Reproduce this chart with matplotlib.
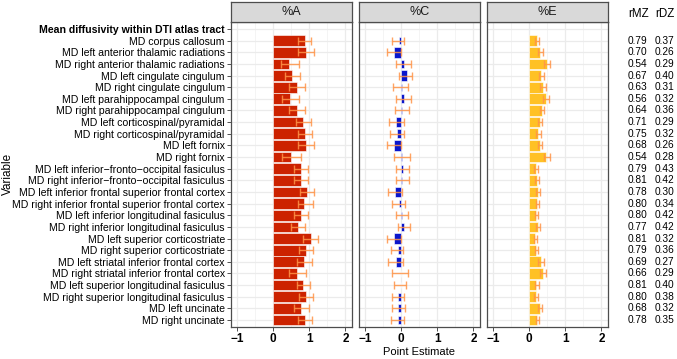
import numpy as np
import matplotlib.pyplot as plt
from matplotlib.transforms import blended_transform_factory

plt.rcParams['font.family'] = ['Liberation Sans', 'DejaVu Sans']

header = 'Mean diffusivity within DTI atlas tract'
tracts = [
    'MD corpus callosum',
    'MD left anterior thalamic radiations',
    'MD right anterior thalamic radiations',
    'MD left cingulate cingulum',
    'MD right cingulate cingulum',
    'MD left parahippocampal cingulum',
    'MD right parahippocampal cingulum',
    'MD left corticospinal/pyramidal',
    'MD right corticospinal/pyramidal',
    'MD left fornix',
    'MD right fornix',
    'MD left inferior\u2212fronto\u2212occipital fasiculus',
    'MD right inferior\u2212fronto\u2212occipital fasiculus',
    'MD left inferior frontal superior frontal cortex',
    'MD right inferior frontal superior frontal cortex',
    'MD left inferior longitudinal fasiculus',
    'MD right inferior longitudinal fasiculus',
    'MD left superior corticostriate',
    'MD right superior corticostriate',
    'MD left striatal inferior frontal cortex',
    'MD right striatal inferior frontal cortex',
    'MD left superior longitudinal fasiculus',
    'MD right superior longitudinal fasiculus',
    'MD left uncinate',
    'MD right uncinate',
]

# %A
a_est = [0.87, 0.91, 0.45, 0.53, 0.67, 0.48, 0.66, 0.84, 0.87, 0.91, 0.51, 0.77, 0.78,
         0.94, 0.86, 0.78, 0.68, 1.04, 0.91, 0.86, 0.67, 0.84, 0.92, 0.78, 0.89]
a_lo = [0.68, 0.68, 0.21, 0.33, 0.44, 0.26, 0.45, 0.63, 0.68, 0.70, 0.26, 0.58, 0.58,
        0.75, 0.68, 0.58, 0.49, 0.84, 0.72, 0.66, 0.44, 0.66, 0.72, 0.58, 0.69]
a_hi = [1.06, 1.12, 0.71, 0.74, 0.88, 0.71, 0.87, 1.05, 1.07, 1.12, 0.76, 0.96, 0.97,
        1.13, 1.09, 0.96, 0.87, 1.23, 1.10, 1.07, 0.92, 1.03, 1.10, 1.00, 1.08]

# %C
c_est = [-0.05, -0.19, 0.08, 0.16, 0.02, 0.09, 0.03, -0.13, -0.10, -0.20, 0.04, 0.05, 0.03,
         -0.17, -0.05, 0.03, 0.08, -0.19, -0.08, -0.14, 0.00, -0.01, -0.07, -0.07, -0.08]
c_lo = [-0.24, -0.40, -0.14, -0.05, -0.21, -0.14, -0.17, -0.33, -0.31, -0.40, -0.19, -0.14, -0.14,
        -0.36, -0.26, -0.14, -0.09, -0.40, -0.29, -0.36, -0.24, -0.19, -0.25, -0.26, -0.28]
c_hi = [0.09, 0.00, 0.27, 0.31, 0.18, 0.28, 0.22, 0.08, 0.08, 0.00, 0.25, 0.22, 0.21,
        0.04, 0.11, 0.20, 0.26, 0.00, 0.06, 0.05, 0.18, 0.14, 0.08, 0.10, 0.08]

# %E
e_est = [0.21, 0.31, 0.50, 0.34, 0.38, 0.47, 0.36, 0.31, 0.25, 0.31, 0.48, 0.19, 0.21,
         0.24, 0.21, 0.20, 0.25, 0.17, 0.20, 0.32, 0.38, 0.20, 0.19, 0.30, 0.22]
e_lo = [0.16, 0.26, 0.41, 0.28, 0.31, 0.39, 0.30, 0.25, 0.20, 0.25, 0.40, 0.15, 0.17,
        0.20, 0.18, 0.16, 0.20, 0.13, 0.16, 0.25, 0.30, 0.16, 0.15, 0.24, 0.18]
e_hi = [0.27, 0.38, 0.58, 0.42, 0.46, 0.55, 0.42, 0.37, 0.32, 0.37, 0.58, 0.26, 0.27,
        0.30, 0.27, 0.26, 0.31, 0.23, 0.26, 0.40, 0.46, 0.27, 0.24, 0.37, 0.28]

rmz = ['0.79', '0.70', '0.54', '0.67', '0.63', '0.56', '0.64', '0.71', '0.75', '0.68', '0.54', '0.79', '0.81',
       '0.78', '0.80', '0.80', '0.77', '0.81', '0.79', '0.69', '0.66', '0.81', '0.80', '0.68', '0.78']
rdz = ['0.37', '0.26', '0.29', '0.40', '0.31', '0.32', '0.36', '0.29', '0.32', '0.26', '0.28', '0.43', '0.42',
       '0.30', '0.34', '0.42', '0.42', '0.32', '0.36', '0.27', '0.29', '0.40', '0.38', '0.32', '0.35']

panels = [
    ('%A', a_est, a_lo, a_hi, '#CC2200'),
    ('%C', c_est, c_lo, c_hi, '#0B16CC'),
    ('%E', e_est, e_lo, e_hi, '#FFC125'),
]

W, H = 677, 359
fig = plt.figure(figsize=(W / 100, H / 100), dpi=100)
fig.patch.set_facecolor('white')

lefts = [231, 359, 487]
pw = 121
top, bot = 22, 327
border = '#4D4D4D'

ypos = np.arange(1, len(tracts) + 1)
axes = []
for (name, est, lo, hi, col), lpx in zip(panels, lefts):
    ax = fig.add_axes([lpx / W, 1 - bot / H, pw / W, (bot - top) / H])
    est = np.array(est)
    # thin bars for near-zero estimates, as in the source
    hts = np.clip(0.55 + 2.2 * np.abs(est), 0.55, 0.92)
    ax.barh(ypos, est, height=hts, color=col, edgecolor='white',
            linewidth=0.4, zorder=3)
    est_err = np.array([est - np.array(lo), np.array(hi) - est])
    ax.errorbar(est, ypos, xerr=np.abs(est_err), fmt='none',
                ecolor='#FF9448', alpha=0.85, elinewidth=1.0,
                capsize=2.8, capthick=1.0, zorder=4)
    ax.set_xlim(-1.16, 2.18)
    ax.set_ylim(len(tracts) + 0.6, -0.6)
    ax.set_xticks([-1, 0, 1, 2])
    ax.set_xticklabels(['\u22121', '0', '1', '2'], fontsize=8.5, fontweight='bold')
    ax.set_xticks([-0.5, 0.5, 1.5], minor=True)
    ax.set_yticks(np.arange(0, len(tracts) + 1))
    ax.grid(which='major', axis='both', color='#EBEBEB', linewidth=0.9, zorder=0)
    ax.grid(which='minor', axis='x', color='#F2F2F2', linewidth=0.6, zorder=0)
    ax.set_axisbelow(True)
    ax.tick_params(axis='x', which='major', length=3, width=0.6, color='#333333',
                   pad=1.5, labelcolor='black')
    ax.tick_params(axis='x', which='minor', length=0)
    for s in ax.spines.values():
        s.set_color(border)
        s.set_linewidth(0.9)
    if lpx == lefts[0]:
        labels = [header] + tracts
        ax.set_yticklabels(labels, fontsize=7.6)
        ax.get_yticklabels()[0].set_fontweight('bold')
        ax.tick_params(axis='y', length=3, width=0.6, color='#333333', pad=1.5)
    else:
        ax.tick_params(axis='y', length=0, labelleft=False)

    sax = fig.add_axes([lpx / W, 1 - top / H, pw / W, 20 / H])
    sax.set_facecolor('#D9D9D9')
    sax.set_xticks([])
    sax.set_yticks([])
    for s in sax.spines.values():
        s.set_color(border)
        s.set_linewidth(0.9)
    sax.text(0.5, 0.5, name, ha='center', va='center', fontsize=9,
             color='#1A1A1A', transform=sax.transAxes)
    axes.append(ax)

# twin correlation columns
tr = blended_transform_factory(fig.transFigure, axes[2].transData)
for y, m, d in zip(ypos, rmz, rdz):
    axes[2].text(628 / W, y, m, transform=tr, fontsize=7.3, va='center',
                 ha='left', clip_on=False)
    axes[2].text(655 / W, y, d, transform=tr, fontsize=7.3, va='center',
                 ha='left', clip_on=False)
fig.text(628 / W, 1 - 14 / H, 'rMZ', fontsize=8.3, va='center', ha='left')
fig.text(655 / W, 1 - 14 / H, 'rDZ', fontsize=8.3, va='center', ha='left')

fig.text(8 / W, 1 - 174 / H, 'Variable', rotation=90, fontsize=8.5,
         va='center', ha='center')
fig.text(419 / W, 1 - 352 / H, 'Point Estimate', fontsize=8,
         va='center', ha='center')

fig.savefig('out.png', dpi=100)
